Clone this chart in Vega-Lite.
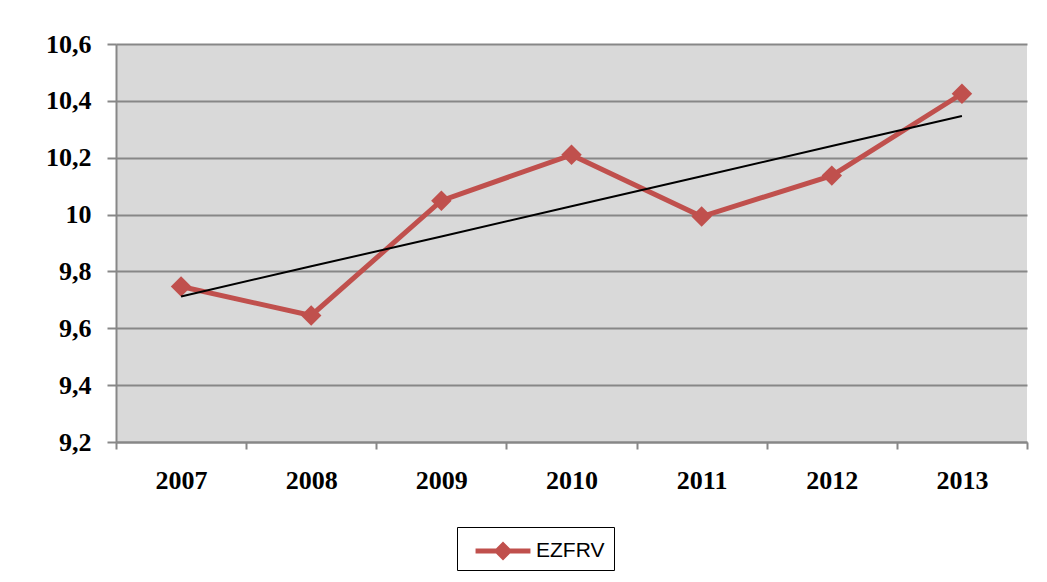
{
  "$schema": "https://vega.github.io/schema/vega-lite/v6.json",
  "autosize": {"type": "none"},
  "padding": {"left": 116, "top": 44, "right": 20, "bottom": 140},
  "width": 911,
  "height": 398,
  "background": "white",
  "config": {
    "view": {"fill": "#D9D9D9", "stroke": null},
    "axis": {
      "labelFont": "Liberation Serif",
      "labelFontWeight": "bold",
      "labelFontSize": 26,
      "labelColor": "black",
      "domainColor": "#878787",
      "domainWidth": 2,
      "tickColor": "#878787",
      "tickWidth": 2,
      "gridColor": "#878787",
      "gridWidth": 2,
      "title": null
    }
  },
  "data": {
    "values": [
      {"year": "2007", "value": 9.747, "trend": 9.712, "series": "EZFRV"},
      {"year": "2008", "value": 9.645, "trend": 9.818, "series": "EZFRV"},
      {"year": "2009", "value": 10.049, "trend": 9.923, "series": "EZFRV"},
      {"year": "2010", "value": 10.21, "trend": 10.029, "series": "EZFRV"},
      {"year": "2011", "value": 9.993, "trend": 10.135, "series": "EZFRV"},
      {"year": "2012", "value": 10.137, "trend": 10.241, "series": "EZFRV"},
      {"year": "2013", "value": 10.425, "trend": 10.347, "series": "EZFRV"}
    ]
  },
  "encoding": {
    "x": {
      "field": "year",
      "type": "ordinal",
      "bandPosition": 0.5,
      "scale": {"type": "band", "paddingInner": 0, "paddingOuter": 0},
      "axis": {"labelAngle": 0, "tickBand": "extent", "tickSize": 7, "labelPadding": 18, "grid": false}
    }
  },
  "layer": [
    {
      "mark": {"type": "line", "strokeWidth": 5},
      "encoding": {
        "y": {
          "field": "value",
          "type": "quantitative",
          "scale": {"domain": [9.2, 10.6], "zero": false, "nice": false},
          "axis": {
            "values": [9.2, 9.4, 9.6, 9.8, 10, 10.2, 10.4, 10.6],
            "tickSize": 9,
            "labelPadding": 16,
            "labelExpr": "replace(format(datum.value, '.1~f'), '.', ',')",
            "grid": true
          }
        },
        "color": {
          "field": "series",
          "type": "nominal",
          "scale": {"range": ["#C0504D"]},
          "legend": {
            "title": null,
            "orient": "none",
            "legendX": 341,
            "legendY": 483,
            "strokeColor": "black",
            "padding": 9,
            "labelFont": "Liberation Sans",
            "labelFontSize": 21,
            "labelColor": "black",
            "symbolType": "M-1.83,-0.17 L1.83,-0.17 L1.83,0.17 L-1.83,0.17 Z M0,-0.63 L0.63,0 L0,0.63 L-0.63,0 Z",
            "symbolSize": 900,
            "symbolOffset": 22,
            "symbolFillColor": "#C0504D",
            "symbolStrokeWidth": 0,
            "labelOffset": 18
          }
        }
      }
    },
    {
      "mark": {"type": "point", "shape": "diamond", "size": 420, "filled": true, "opacity": 1, "color": "#C0504D"},
      "encoding": {
        "y": {"field": "value", "type": "quantitative"}
      }
    },
    {
      "mark": {"type": "line", "color": "black", "strokeWidth": 2},
      "encoding": {
        "y": {"field": "trend", "type": "quantitative"}
      }
    }
  ]
}
